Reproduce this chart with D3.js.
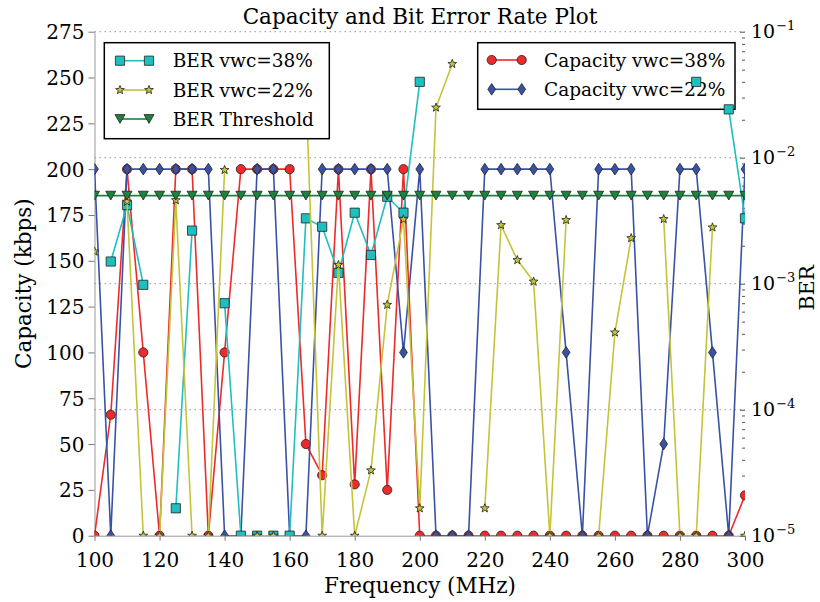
<!DOCTYPE html>
<html><head><meta charset="utf-8">
<script src="https://cdn.jsdelivr.net/npm/d3@7"></script>
<style>body{margin:0;background:#fff}</style>
</head><body>
<svg id="chart" width="820" height="602"></svg>
<script>
// ---------------- data ----------------
const frequencies = [100,105,110,115,120,125,130,135,140,145,150,155,160,165,170,175,180,185,190,195,200,
                     205,210,215,220,225,230,235,240,245,250,255,260,265,270,275,280,285,290,295,300];
const capacity38 = [0,66,200,100,0,200,200,0,100,200,200,200,200,50,33,200,28,200,25,200,0,
                    0,0,0,0,0,0,0,0,0,0,0,0,0,0,0,0,0,0,0,22];
const capacity22 = [200,0,200,200,200,200,200,200,0,0,200,200,0,0,200,200,200,200,200,100,200,
                    0,0,0,200,200,200,200,200,100,0,200,200,200,0,50,200,200,100,0,200];
const ber38 = [null,1.5e-3,4.2e-3,9.8e-4,null,1.65e-5,2.64e-3,null,7.0e-4,1e-5,1e-5,1e-5,1e-5,3.3e-3,2.83e-3,1.22e-3,3.66e-3,1.69e-3,4.9e-3,3.66e-3,4.0e-2,
               null,null,null,null,null,null,null,null,null,null,null,null,null,null,null,null,4.0e-2,null,2.42e-2,3.3e-3];
const ber22 = [1.8e-3,null,4.48e-3,1e-5,1e-5,4.6e-3,1e-5,1e-5,8.0e-3,null,1e-5,1e-5,null,3.5e-2,1e-5,1.41e-3,1e-5,3.3e-5,6.8e-4,3.24e-3,1.65e-5,
               2.5e-2,5.55e-2,null,1.65e-5,2.92e-3,1.54e-3,1.04e-3,1e-5,3.2e-3,null,1e-5,4.1e-4,2.3e-3,null,3.26e-3,1e-5,1e-5,2.8e-3,null,1e-5];
const berThreshold = [5e-3,5e-3,5e-3,5e-3,5e-3,5e-3,5e-3,5e-3,5e-3,5e-3,5e-3,5e-3,5e-3,5e-3,5e-3,5e-3,5e-3,5e-3,5e-3,5e-3,5e-3,
                      5e-3,5e-3,5e-3,5e-3,5e-3,5e-3,5e-3,5e-3,5e-3,5e-3,5e-3,5e-3,5e-3,5e-3,5e-3,5e-3,5e-3,5e-3,5e-3,5e-3];
const freqTicks = [100,120,140,160,180,200,220,240,260,280,300];
const capacityTicks = [0,25,50,75,100,125,150,175,200,225,250,275];
const berMajorTicks = [1e-5,1e-4,1e-3,1e-2,1e-1];
const berMinorTicks = [2e-5,3e-5,4e-5,5e-5,6e-5,7e-5,8e-5,9e-5,2e-4,3e-4,4e-4,5e-4,6e-4,7e-4,8e-4,9e-4,
                       2e-3,3e-3,4e-3,5e-3,6e-3,7e-3,8e-3,9e-3,2e-2,3e-2,4e-2,5e-2,6e-2,7e-2,8e-2,9e-2];
const title = "Capacity and Bit Error Rate Plot";
const xLabel = "Frequency (MHz)";
const yLabelLeft = "Capacity (kbps)";
const yLabelRight = "BER";

// ---------------- layout / style ----------------
const FONT = "'DejaVu Serif', 'Liberation Serif', serif";
const P = {left:94.5, right:745, top:31.7, bottom:535.7};
const COL = {red:"#ee2a2a", blue:"#3a52a6", cyan:"#20bfbf", yellow:"#c4c43a", green:"#1f803f"};

const svg = d3.select("#chart");
const x = d3.scaleLinear().domain([100,300]).range([P.left,P.right]);
const yCap = d3.scaleLinear().domain([0,275]).range([P.bottom,P.top]);
const yBer = d3.scaleLog().domain([1e-5,1e-1]).range([P.bottom,P.top]);

svg.append("defs").append("clipPath").attr("id","clip")
  .append("rect").attr("x",P.left).attr("y",P.top)
  .attr("width",P.right-P.left).attr("height",P.bottom-P.top);

// grid (right axis decades)
svg.append("g").selectAll("line").data(berMajorTicks.slice(1)).join("line")
  .attr("x1",P.left).attr("x2",P.right)
  .attr("y1",d=>yBer(d)).attr("y2",d=>yBer(d))
  .attr("stroke","#999").attr("stroke-width",1).attr("stroke-dasharray","1.5,3.5");

// axes
const gx = svg.append("g").attr("transform",`translate(0,${P.bottom})`)
  .call(d3.axisBottom(x).tickValues(freqTicks).tickSize(5).tickSizeOuter(0));
gx.select(".domain").attr("stroke","#999");
gx.selectAll(".tick line").attr("stroke","#777");
gx.selectAll("text").attr("y",31).attr("dy",0).attr("font-family",FONT).attr("font-size",20).attr("fill","#000");

const gy = svg.append("g").attr("transform",`translate(${P.left},0)`)
  .call(d3.axisLeft(yCap).tickValues(capacityTicks).tickSize(6).tickSizeOuter(0));
gy.select(".domain").attr("stroke","#999");
gy.selectAll(".tick line").attr("stroke","#777");
gy.selectAll("text").attr("x",-10).attr("dy","0.35em").attr("font-family",FONT).attr("font-size",20).attr("fill","#000");

const gr = svg.append("g").attr("transform",`translate(${P.right},0)`)
  .call(d3.axisLeft(yBer).tickValues(berMajorTicks).tickSize(5).tickFormat(""));
gr.select(".domain").remove();
gr.selectAll(".tick line").attr("stroke","#555");
const grm = svg.append("g").attr("transform",`translate(${P.right},0)`)
  .call(d3.axisLeft(yBer).tickValues(berMinorTicks).tickSize(3).tickFormat(""));
grm.select(".domain").remove();
grm.selectAll(".tick line").attr("stroke","#555");

const rl = svg.append("g").selectAll("text").data(berMajorTicks).join("text")
  .attr("x",P.right+6).attr("y",d=>yBer(d)+6)
  .attr("font-family",FONT).attr("font-size",19).attr("fill","#000");
rl.append("tspan").text("10");
rl.append("tspan").attr("dy",-8).attr("dx",1).attr("font-size",13)
  .text(d=>"\u2212"+Math.abs(Math.round(Math.log10(d))));

// labels
svg.append("text").attr("x",420).attr("y",24).attr("text-anchor","middle")
  .attr("font-family",FONT).attr("font-size",21.5).text(title);
svg.append("text").attr("x",420).attr("y",593).attr("text-anchor","middle")
  .attr("font-family",FONT).attr("font-size",21.5).text(xLabel);
svg.append("text").attr("transform",`translate(31,${(P.top+P.bottom)/2}) rotate(-90)`)
  .attr("text-anchor","middle").attr("font-family",FONT).attr("font-size",21.5).text(yLabelLeft);
svg.append("text").attr("transform",`translate(814,${(P.top+P.bottom)/2+4}) rotate(-90)`)
  .attr("text-anchor","middle").attr("font-family",FONT).attr("font-size",20.5).text(yLabelRight);

// markers
function starPath(R,r){
  let p=[];
  for(let i=0;i<10;i++){
    const a=-Math.PI/2+i*Math.PI/5, rad=i%2?r:R;
    p.push([rad*Math.cos(a),rad*Math.sin(a)]);
  }
  return "M"+p.map(q=>q[0].toFixed(2)+","+q[1].toFixed(2)).join("L")+"Z";
}
const MARK = {
  circle: d3.symbol(d3.symbolCircle, Math.PI*4.6*4.6)(),
  square: "M-4.6,-4.6H4.6V4.6H-4.6Z",
  diamond: "M0,-5.8L3.9,0L0,5.8L-3.9,0Z",
  star: starPath(4.6,1.9),
  tri: "M-5,-4.4L5,-4.4L0,4.4Z"
};

function drawSeries(values, yScale, color, marker){
  const data = frequencies.map((f,i)=>({f, v:values[i]}));
  const g = svg.append("g").attr("clip-path","url(#clip)");
  g.append("path").datum(data)
    .attr("fill","none").attr("stroke",color).attr("stroke-width",1.6)
    .attr("stroke-linejoin","round")
    .attr("d", d3.line().defined(d=>d.v!==null).x(d=>x(d.f)).y(d=>yScale(d.v)));
  g.selectAll("path.m").data(data.filter(d=>d.v!==null)).join("path").attr("class","m")
    .attr("transform",d=>`translate(${x(d.f)},${yScale(d.v)})`)
    .attr("d",MARK[marker]).attr("fill",color).attr("stroke","#222").attr("stroke-width",0.8);
}

function drawLegend(box, entries){
  const g = svg.append("g");
  g.append("rect").attr("x",box.x).attr("y",box.y).attr("width",box.w).attr("height",box.h)
    .attr("fill","#fff").attr("stroke","#000").attr("stroke-width",1.5);
  entries.forEach((e,i)=>{
    const y = box.rowY[i];
    g.append("line").attr("x1",box.lx1).attr("x2",box.lx2).attr("y1",y).attr("y2",y)
      .attr("stroke",e.color).attr("stroke-width",1.6);
    [box.lx1,box.lx2].forEach(mx=>{
      g.append("path").attr("transform",`translate(${mx},${y})`).attr("d",MARK[e.marker])
        .attr("fill",e.color).attr("stroke","#222").attr("stroke-width",0.8);
    });
    g.append("text").attr("x",box.tx).attr("y",y+6.6).attr("font-family",FONT)
      .attr("font-size",18.5).text(e.label);
  });
}

// capacity axes (below)
drawSeries(capacity38, yCap, COL.red, "circle");
drawSeries(capacity22, yCap, COL.blue, "diamond");
drawLegend({x:477.7,y:42.7,w:257.3,h:66.6,lx1:491.7,lx2:521.7,tx:544,rowY:[60,89.3]},
  [{label:"Capacity vwc=38%",color:COL.red,marker:"circle"},
   {label:"Capacity vwc=22%",color:COL.blue,marker:"diamond"}]);

// BER axes (above)
drawSeries(ber38, yBer, COL.cyan, "square");
drawSeries(ber22, yBer, COL.yellow, "star");
drawSeries(berThreshold, yBer, COL.green, "tri");
drawLegend({x:104.3,y:42.7,w:225,h:96,lx1:120,lx2:149,tx:172.7,rowY:[60.7,90,119]},
  [{label:"BER vwc=38%",color:COL.cyan,marker:"square"},
   {label:"BER vwc=22%",color:COL.yellow,marker:"star"},
   {label:"BER Threshold",color:COL.green,marker:"tri"}]);
</script>
</body></html>
